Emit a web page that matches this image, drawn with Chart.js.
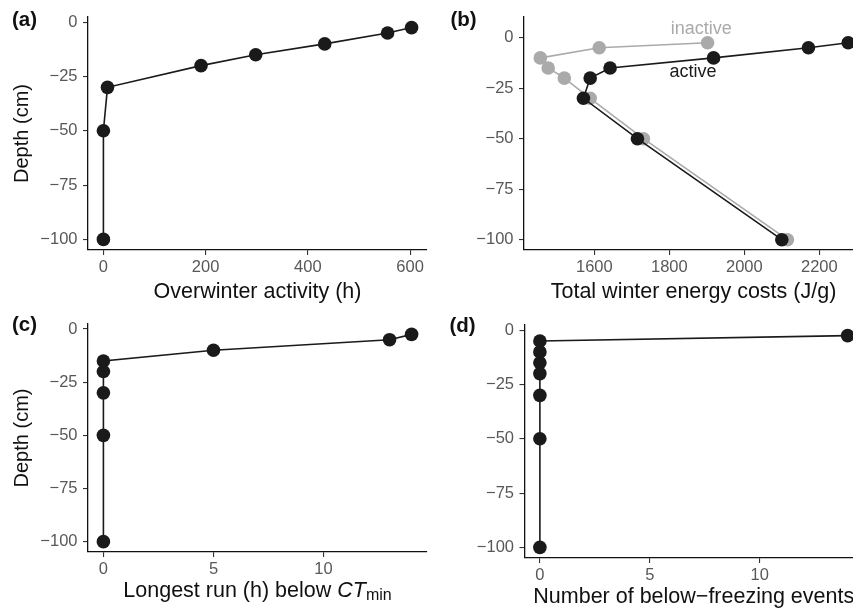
<!DOCTYPE html>
<html><head><meta charset="utf-8">
<script src="https://cdn.jsdelivr.net/npm/chart.js@4"></script>
<style>
html,body{margin:0;padding:0;background:#fff;overflow:hidden;width:853px;height:610px;}
#wrap{position:relative;width:853px;height:610px;overflow:hidden;font-family:'Liberation Sans',Arial,sans-serif;}
canvas{position:absolute;}
.lab{position:absolute;font-weight:bold;font-size:20.5px;line-height:1;color:#111;white-space:nowrap;}
.xt{position:absolute;font-size:21.5px;line-height:1;color:#111;text-align:center;white-space:nowrap;}
</style></head>
<body><div id="wrap">
<canvas id="ca" width="430" height="305" style="left:0;top:0"></canvas>
<canvas id="cb" width="450" height="305" style="left:430px;top:0"></canvas>
<canvas id="cc" width="430" height="305" style="left:0;top:305px"></canvas>
<canvas id="cd" width="450" height="305" style="left:430px;top:305px"></canvas>
<div class="lab" style="left:12px;top:9px">(a)</div>
<div class="lab" style="left:450.5px;top:9px">(b)</div>
<div class="lab" style="left:12px;top:313.7px">(c)</div>
<div class="lab" style="left:449.5px;top:314.6px">(d)</div>
<div class="xt" style="left:88px;width:339px;top:580.3px">Longest run (h) below <i>CT</i><span style="font-size:16px;position:relative;top:3px">min</span></div>
</div>
<script>
// ---- data ----
const depths = [-2.5, -5, -10, -15, -20, -30, -50, -100];
const overwinterActivity = [603, 556, 433, 298, 191, 8, 0, 0];
const energyActive = [2277, 2171, 1918, 1642, 1589, 1571, 1715, 2100];
const energyInactive = [1902, 1613, 1456, 1477, 1520, 1589, 1731, 2115];
const longestRun = [14, 13, 5, 0, 0, 0, 0, 0];
const freezeEvents = [14, 0, 0, 0, 0, 0, 0, 0];
const depthTicks = [0, -25, -50, -75, -100];
const depthTickLabels = ['0', '\u221225', '\u221250', '\u221275', '\u2212100'];
const activityTicks = [0, 200, 400, 600];
const energyTicks = [1600, 1800, 2000, 2200];
const runTicks = [0, 5, 10];
const eventTicks = [0, 5, 10];
const annotLabels = ['inactive', 'active'];
const annotX = [1885, 1863];
const annotY = [4.3, -17];

const FONT = "'Liberation Sans', Arial, sans-serif";
const BLACK = '#1a1a1a';
const GREY = '#aaaaaa';

const annotPlugin = {
  id: 'annot',
  afterDatasetsDraw(chart, args, o) {
    if (!o || !o.labels) return;
    const ctx = chart.ctx, xs = chart.scales.x, ys = chart.scales.y;
    ctx.save();
    ctx.font = '18px ' + FONT;
    ctx.textAlign = 'center';
    ctx.textBaseline = 'middle';
    o.labels.forEach((t, i) => {
      ctx.fillStyle = o.colors[i];
      ctx.fillText(t, xs.getPixelForValue(o.xs[i]), ys.getPixelForValue(o.ys[i]));
    });
    ctx.restore();
  }
};

function series(xv, color) {
  return {
    data: xv.map((v, i) => ({ x: v, y: depths[i] })),
    showLine: true,
    borderColor: color,
    backgroundColor: color,
    borderWidth: 1.6,
    pointRadius: 6.8,
    pointBorderWidth: 0,
    pointHoverRadius: 6.8,
    clip: false
  };
}

function makeChart(id, cfg) {
  const tickColor = '#585858';
  new Chart(document.getElementById(id), {
    type: 'scatter',
    data: { datasets: cfg.datasets },
    plugins: [annotPlugin],
    options: {
      responsive: false,
      animation: false,
      events: [],
      layout: { autoPadding: false, padding: { left: 0, top: cfg.padTop, right: cfg.padRight, bottom: 0 } },
      plugins: { legend: { display: false }, tooltip: { enabled: false }, annot: cfg.annot || {} },
      scales: {
        x: {
          type: 'linear', position: 'bottom',
          min: cfg.xMin, max: cfg.xMax,
          afterBuildTicks: s => { s.ticks = cfg.xTicks.map(v => ({ value: v })); },
          afterFit: s => { s.height = cfg.xHeight; },
          ticks: { color: tickColor, font: { size: 16.5, family: FONT }, padding: 3, maxRotation: 0, autoSkip: false,
                   callback: (v, i) => String(cfg.xTicks[i]) },
          grid: { drawOnChartArea: false, drawTicks: true, tickLength: 5, color: '#333', lineWidth: 1.1 },
          border: { display: true, color: '#111', width: 1.3 },
          title: cfg.xTitle ? { display: true, text: cfg.xTitle, color: '#111', font: { size: 21.5, family: FONT }, padding: { top: 0, bottom: 0.5 } } : { display: false }
        },
        y: {
          type: 'linear', position: 'left',
          min: cfg.yMin, max: cfg.yMax,
          afterBuildTicks: s => { s.ticks = depthTicks.map(v => ({ value: v })); },
          afterFit: s => { s.width = cfg.yWidth; },
          ticks: { color: tickColor, font: { size: 16.5, family: FONT }, padding: 5.5, autoSkip: false,
                   callback: (v, i) => depthTickLabels[i] },
          grid: { drawOnChartArea: false, drawTicks: true, tickLength: 5, color: '#333', lineWidth: 1.1 },
          border: { display: true, color: '#111', width: 1.3 },
          title: cfg.yTitle ? { display: true, text: cfg.yTitle, color: '#111', font: { size: 20, family: FONT }, padding: { top: 10, bottom: 0 } } : { display: false }
        }
      }
    }
  });
}

makeChart('ca', {
  datasets: [series(overwinterActivity, BLACK)],
  xMin: -30.15, xMax: 633.15, xTicks: activityTicks,
  yMin: -104.875, yMax: 2.375,
  xTitle: 'Overwinter activity (h)', yTitle: 'Depth (cm)',
  yWidth: 88, xHeight: 55, padTop: 17, padRight: 3
});
makeChart('cb', {
  datasets: [series(energyActive, BLACK), series(energyInactive, GREY)],
  xMin: 1412.5, xMax: 2316.5, xTicks: energyTicks,
  yMin: -105.1, yMax: 10.25,
  xTitle: 'Total winter energy costs (J/g)', yTitle: null,
  yWidth: 94, xHeight: 55, padTop: 17, padRight: 17,
  annot: { labels: annotLabels, xs: annotX, ys: annotY, colors: [GREY, BLACK] }
});
makeChart('cc', {
  datasets: [series(longestRun, BLACK)],
  xMin: -0.7, xMax: 14.7, xTicks: runTicks,
  yMin: -104.875, yMax: 2.375,
  xTitle: null, yTitle: 'Depth (cm)',
  yWidth: 88, xHeight: 58, padTop: 19, padRight: 3
});
makeChart('cd', {
  datasets: [series(freezeEvents, BLACK)],
  xMin: -0.7, xMax: 14.7, xTicks: eventTicks,
  yMin: -104.875, yMax: 2.375,
  xTitle: 'Number of below\u2212freezing events', yTitle: null,
  yWidth: 94.5, xHeight: 52, padTop: 20, padRight: 17
});
</script>
</body></html>
